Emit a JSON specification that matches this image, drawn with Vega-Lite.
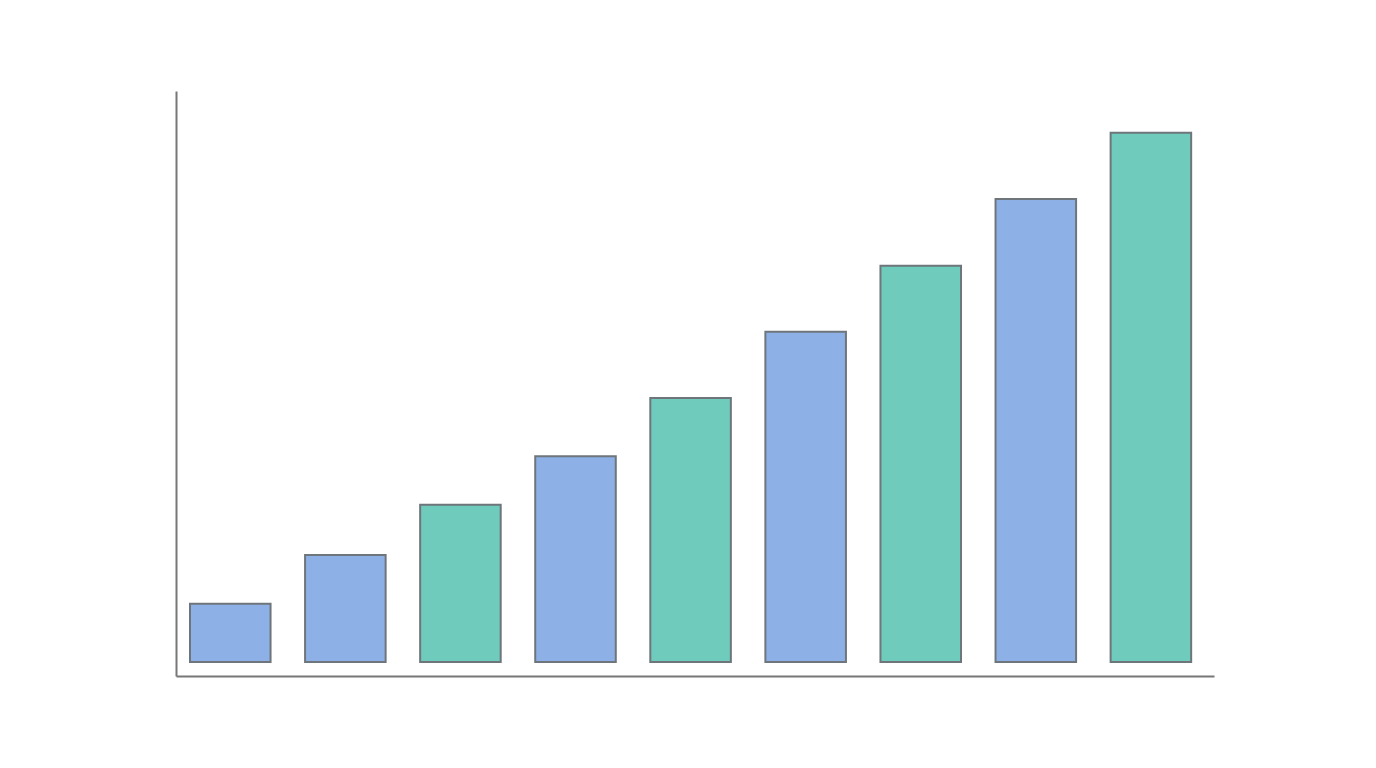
{
  "$schema": "https://vega.github.io/schema/vega-lite/v6.json",
  "width": 1038,
  "height": 585,
  "autosize": {"type": "none"},
  "padding": {"left": 176, "top": 91, "right": 162, "bottom": 92},
  "background": "#ffffff",
  "config": {"view": {"stroke": null}},
  "data": {
    "values": [
      {"bar": "1", "value": 11.0, "group": "A"},
      {"bar": "2", "value": 20.2, "group": "A"},
      {"bar": "3", "value": 29.7, "group": "B"},
      {"bar": "4", "value": 38.9, "group": "A"},
      {"bar": "5", "value": 49.9, "group": "B"},
      {"bar": "6", "value": 62.4, "group": "A"},
      {"bar": "7", "value": 74.9, "group": "B"},
      {"bar": "8", "value": 87.5, "group": "A"},
      {"bar": "9", "value": 100.0, "group": "B"}
    ]
  },
  "mark": {"type": "bar", "stroke": "#6e767b", "strokeWidth": 2},
  "encoding": {
    "x": {
      "field": "bar",
      "type": "ordinal",
      "sort": null,
      "scale": {"paddingInner": 0.3, "paddingOuter": 0.16, "align": 0.38},
      "axis": {"labels": false, "ticks": false, "title": null, "grid": false, "domainColor": "#777777", "domainWidth": 2}
    },
    "y": {
      "field": "value",
      "type": "quantitative",
      "scale": {"domain": [-2.65, 107.9], "nice": false, "zero": false},
      "axis": {"labels": false, "ticks": false, "title": null, "grid": false, "domainColor": "#777777", "domainWidth": 2}
    },
    "y2": {"datum": 0},
    "color": {
      "field": "group",
      "type": "nominal",
      "scale": {"domain": ["A", "B"], "range": ["#8db1e7", "#6fcbbc"]},
      "legend": null
    }
  }
}
